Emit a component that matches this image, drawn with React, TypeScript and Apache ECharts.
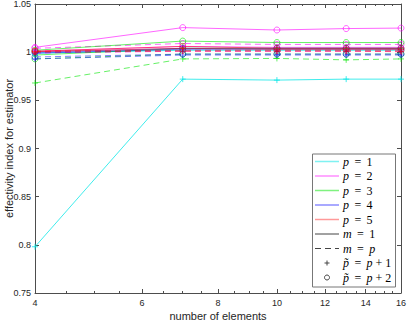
import React, { useEffect, useRef } from "react";
import * as echarts from "echarts";

// ---- data ----
const elements = [4, 7, 10, 13, 16];
const xTickValues = [4, 6, 8, 10, 12, 14, 16];
const xMinorTickValues = [4.5, 5, 5.5, 6.5, 7, 7.5, 8.5, 9, 9.5, 10.5, 11, 11.5, 12.5, 13, 13.5, 14.5, 15, 15.5];

// p = 1 (m = 1 and m = p coincide)
const p1Plus1 = [0.798, 0.972, 0.971, 0.972, 0.972];
const p1Plus2 = [0.999, 1.002, 1.002, 1.002, 1.002];
// p = 2
const p2m1Plus1 = [1.001, 1.006, 1.005, 1.005, 1.005];
const p2m1Plus2 = [1.005, 1.0255, 1.023, 1.0245, 1.025];
const p2mpPlus1 = [0.999, 1.001, 1.001, 1.001, 1.001];
const p2mpPlus2 = [1.004, 1.009, 1.008, 1.008, 1.008];
// p = 3
const p3m1Plus1 = [0.997, 1.004, 1.004, 1.004, 1.004];
const p3m1Plus2 = [1.002, 1.0115, 1.01, 1.01, 1.01];
const p3mpPlus1 = [0.968, 0.993, 0.9935, 0.992, 0.993];
const p3mpPlus2 = [0.993, 0.998, 0.998, 0.998, 0.998];
// p = 4
const p4m1Plus1 = [0.999, 1.003, 1.003, 1.003, 1.003];
const p4m1Plus2 = [1.0, 1.004, 1.004, 1.004, 1.004];
const p4mpPlus1 = [0.993, 0.997, 0.997, 0.997, 0.997];
const p4mpPlus2 = [0.995, 0.998, 0.998, 0.998, 0.998];
// p = 5
const p5m1Plus1 = [1.0005, 1.004, 1.003, 1.003, 1.003];
const p5m1Plus2 = [1.001, 1.006, 1.004, 1.004, 1.004];
const p5mpPlus1 = [1.0, 1.001, 1.001, 1.001, 1.0005];
const p5mpPlus2 = [1.001, 1.002, 1.002, 1.002, 1.002];

const EQ = "\u2009 = \u2009";
const legendLabels = [
  `{i|p}${EQ}1`,
  `{i|p}${EQ}2`,
  `{i|p}${EQ}3`,
  `{i|p}${EQ}4`,
  `{i|p}${EQ}5`,
  `{i|m}${EQ}1`,
  `{i|m}${EQ}{i|p}`,
  `{i|p\u0303}${EQ}{i|p} + 1`,
  `{i|p\u0303}${EQ}{i|p} + 2`,
];

// ---- styles ----
const C1 = "rgba(0,230,230,0.75)";
const C2 = "rgba(255,0,255,0.6)";
const C3 = "rgba(0,230,0,0.6)";
const C4 = "rgba(0,0,255,0.5)";
const C5 = "rgba(255,0,0,0.5)";
const PLUS = "path://M5,0 L5,10 M0,5 L10,5";
const DASH = [6, 4];

type Spec = { data: number[]; color: string; dashed: boolean; plus: boolean };
const specs: Spec[] = [
  { data: p1Plus1, color: C1, dashed: false, plus: true },
  { data: p1Plus2, color: C1, dashed: false, plus: false },
  { data: p2m1Plus1, color: C2, dashed: false, plus: true },
  { data: p2m1Plus2, color: C2, dashed: false, plus: false },
  { data: p2mpPlus1, color: C2, dashed: true, plus: true },
  { data: p2mpPlus2, color: C2, dashed: true, plus: false },
  { data: p3m1Plus1, color: C3, dashed: false, plus: true },
  { data: p3m1Plus2, color: C3, dashed: false, plus: false },
  { data: p3mpPlus1, color: C3, dashed: true, plus: true },
  { data: p3mpPlus2, color: C3, dashed: true, plus: false },
  { data: p4m1Plus1, color: C4, dashed: false, plus: true },
  { data: p4m1Plus2, color: C4, dashed: false, plus: false },
  { data: p4mpPlus1, color: C4, dashed: true, plus: true },
  { data: p4mpPlus2, color: C4, dashed: true, plus: false },
  { data: p5m1Plus1, color: C5, dashed: false, plus: true },
  { data: p5m1Plus2, color: C5, dashed: false, plus: false },
  { data: p5mpPlus1, color: C5, dashed: true, plus: true },
  { data: p5mpPlus2, color: C5, dashed: true, plus: false },
];

const AXIS = "#4d4d4d";
const TXT = "#262626";
const SANS = "'Liberation Sans', Arial, sans-serif";
const SERIF = "'Liberation Serif', 'Times New Roman', serif";

function buildLegend() {
  const boxX = 312, boxY = 153.5, boxW = 83, boxH = 133;
  const top = 161.5, step = 14.5;
  const lineX0 = 315, lineX1 = 339, textX = 343, markX = 327;
  const sampleColors = [
    "rgba(0,230,230,0.5)",
    "rgba(255,0,255,0.45)",
    "rgba(0,230,0,0.5)",
    "rgba(0,0,255,0.45)",
    "rgba(255,0,0,0.4)",
  ];
  const children: any[] = [
    {
      type: "rect",
      shape: { x: boxX + 0.5, y: boxY + 0.5, width: boxW, height: boxH },
      style: { fill: "#fff", stroke: "#777", lineWidth: 1 },
    },
  ];
  legendLabels.forEach((lab, i) => {
    const y = top + i * step;
    if (i < 5) {
      children.push({
        type: "line",
        shape: { x1: lineX0, y1: y, x2: lineX1, y2: y },
        style: { stroke: sampleColors[i], lineWidth: 1.5 },
      });
    } else if (i === 5) {
      children.push({
        type: "line",
        shape: { x1: lineX0, y1: y, x2: lineX1, y2: y },
        style: { stroke: "#444", lineWidth: 1 },
      });
    } else if (i === 6) {
      children.push({
        type: "line",
        shape: { x1: lineX0, y1: y, x2: lineX1, y2: y },
        style: { stroke: "#444", lineWidth: 1, lineDash: DASH },
      });
    } else if (i === 7) {
      children.push({
        type: "line",
        shape: { x1: markX - 2.5, y1: y, x2: markX + 2.5, y2: y },
        style: { stroke: "#444", lineWidth: 1 },
      });
      children.push({
        type: "line",
        shape: { x1: markX, y1: y - 2.5, x2: markX, y2: y + 2.5 },
        style: { stroke: "#444", lineWidth: 1 },
      });
    } else {
      children.push({
        type: "circle",
        shape: { cx: markX, cy: y, r: 2.5 },
        style: { fill: "none", stroke: "#444", lineWidth: 1 },
      });
    }
    children.push({
      type: "text",
      x: textX,
      y,
      style: {
        text: lab,
        fontFamily: SERIF,
        fontSize: 12,
        fill: "#000",
        verticalAlign: "middle",
        align: "left",
        rich: { i: { fontStyle: "italic", fontFamily: SERIF, fontSize: 12 } },
      },
    });
  });
  return [{ type: "group", children, z: 100 }];
}

export default function App() {
  const ref = useRef<HTMLDivElement>(null);
  useEffect(() => {
    if (!ref.current) return;
    const chart = echarts.init(ref.current, null, { renderer: "svg" });
    const logAxisBase = { type: "log", min: 4, max: 16, logBase: 2, splitLine: { show: false } };
    const option: any = {
      animation: false,
      backgroundColor: "#fff",
      grid: { left: 35, right: 6, top: 4, bottom: 29, containLabel: false, outerBoundsMode: "none" },
      xAxis: [
        {
          ...logAxisBase,
          position: "bottom",
          axisLine: { show: true, lineStyle: { color: AXIS, width: 1 } },
          axisTick: { show: true, inside: true, length: 4, customValues: xTickValues, lineStyle: { color: AXIS } },
          axisLabel: { show: true, customValues: xTickValues, fontSize: 9, color: TXT, fontFamily: SANS, margin: 5 },
          name: "number of elements",
          nameLocation: "middle",
          nameGap: 17,
          nameMoveOverlap: false,
          nameTextStyle: { fontSize: 11, color: TXT, fontFamily: SANS },
        },
        {
          ...logAxisBase,
          position: "bottom",
          axisLine: { show: false },
          axisTick: { show: true, inside: true, length: 2, customValues: xMinorTickValues, lineStyle: { color: AXIS } },
          axisLabel: { show: false },
        },
        {
          ...logAxisBase,
          position: "top",
          axisLine: { show: true, lineStyle: { color: AXIS, width: 1 } },
          axisTick: { show: true, inside: true, length: 4, customValues: xTickValues, lineStyle: { color: AXIS } },
          axisLabel: { show: false },
        },
        {
          ...logAxisBase,
          position: "top",
          axisLine: { show: false },
          axisTick: { show: true, inside: true, length: 2, customValues: xMinorTickValues, lineStyle: { color: AXIS } },
          axisLabel: { show: false },
        },
      ],
      yAxis: [
        {
          type: "value",
          position: "left",
          min: 0.75,
          max: 1.05,
          interval: 0.05,
          splitLine: { show: false },
          axisLine: { show: true, lineStyle: { color: AXIS, width: 1 } },
          axisTick: { show: true, inside: true, length: 4, lineStyle: { color: AXIS } },
          axisLabel: { fontSize: 9, color: TXT, fontFamily: SANS, margin: 4 },
          name: "effectivity index for estimator",
          nameLocation: "middle",
          nameGap: 21,
          nameMoveOverlap: false,
          nameTextStyle: { fontSize: 11, color: TXT, fontFamily: SANS },
        },
        {
          type: "value",
          position: "right",
          min: 0.75,
          max: 1.05,
          interval: 0.05,
          splitLine: { show: false },
          axisLine: { show: true, lineStyle: { color: AXIS, width: 1 } },
          axisTick: { show: true, inside: true, length: 4, lineStyle: { color: AXIS } },
          axisLabel: { show: false },
        },
      ],
      series: specs.map((s) => ({
        type: "line",
        xAxisIndex: 0,
        yAxisIndex: 0,
        silent: true,
        data: elements.map((x, i) => [x, s.data[i]]),
        symbol: s.plus ? PLUS : "circle",
        symbolSize: 6,
        showSymbol: true,
        lineStyle: { color: s.color, width: 1, type: s.dashed ? DASH : "solid" },
        itemStyle: { color: "rgba(0,0,0,0)", borderColor: s.color, borderWidth: 1 },
        emphasis: { disabled: true },
      })),
      graphic: buildLegend(),
    };
    chart.setOption(option);
    return () => chart.dispose();
  }, []);
  return <div ref={ref} style={{ position: "absolute", left: 0, top: 0, width: 407, height: 322 }} />;
}
